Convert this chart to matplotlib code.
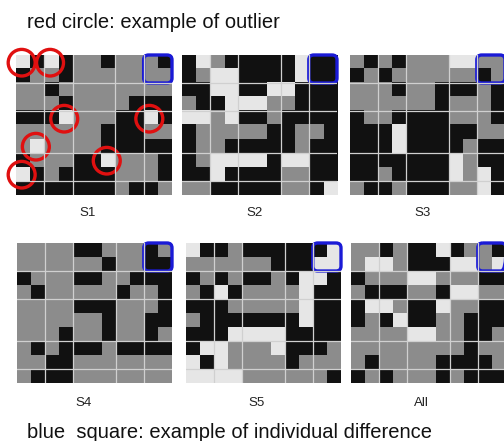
import matplotlib
matplotlib.use("Agg")
import matplotlib.pyplot as plt
from matplotlib.colors import ListedColormap
from matplotlib.patches import Circle, FancyBboxPatch
import numpy as np

plt.rcParams['font.family'] = ['Liberation Sans', 'DejaVu Sans']

# 0 = black, 1 = gray, 2 = light
s1 = [
    [2, 0, 2, 0, 1, 1, 0, 1, 1, 1, 0],
    [0, 1, 1, 0, 1, 1, 1, 1, 1, 1, 1],
    [1, 1, 0, 1, 1, 1, 1, 1, 1, 1, 1],
    [1, 1, 1, 0, 1, 1, 1, 1, 0, 0, 0],
    [0, 0, 0, 2, 1, 1, 1, 0, 0, 2, 0],
    [1, 1, 1, 1, 1, 1, 0, 0, 0, 1, 1],
    [1, 2, 1, 1, 1, 1, 0, 0, 0, 0, 0],
    [0, 1, 1, 1, 0, 0, 2, 1, 1, 1, 0],
    [2, 0, 1, 0, 0, 0, 0, 1, 1, 1, 0],
    [0, 0, 0, 0, 0, 0, 0, 1, 0, 0, 1],
]
s2 = [
    [0, 2, 1, 0, 0, 0, 0, 0, 2, 0, 0],
    [0, 1, 2, 2, 0, 0, 0, 0, 2, 0, 0],
    [0, 0, 2, 2, 0, 0, 2, 2, 0, 0, 0],
    [1, 0, 0, 2, 2, 2, 1, 1, 0, 0, 0],
    [2, 2, 1, 2, 0, 0, 1, 0, 0, 0, 0],
    [0, 1, 1, 1, 1, 1, 0, 0, 1, 1, 0],
    [0, 1, 1, 0, 0, 0, 0, 0, 1, 0, 0],
    [0, 1, 2, 2, 2, 2, 0, 2, 2, 0, 0],
    [0, 0, 2, 0, 0, 0, 0, 1, 1, 0, 0],
    [1, 1, 0, 0, 0, 0, 0, 1, 1, 0, 2],
]
s3 = [
    [1, 0, 1, 0, 1, 1, 1, 2, 2, 1, 1],
    [0, 1, 0, 1, 1, 1, 1, 1, 1, 0, 1],
    [1, 1, 1, 0, 1, 1, 0, 0, 0, 1, 0],
    [1, 1, 1, 1, 1, 1, 0, 1, 1, 1, 0],
    [0, 1, 1, 0, 0, 0, 0, 1, 1, 1, 0],
    [0, 0, 0, 2, 0, 0, 0, 0, 0, 1, 1],
    [0, 0, 0, 2, 0, 0, 0, 0, 1, 0, 0],
    [0, 0, 0, 0, 0, 0, 0, 2, 1, 0, 0],
    [0, 0, 1, 0, 0, 0, 0, 2, 1, 2, 0],
    [1, 0, 0, 1, 0, 0, 0, 1, 1, 2, 0],
]
s4 = [
    [1, 1, 1, 1, 0, 0, 1, 1, 1, 0, 1],
    [1, 1, 1, 1, 1, 1, 0, 1, 1, 0, 0],
    [0, 1, 1, 1, 0, 0, 1, 1, 0, 0, 0],
    [1, 0, 1, 1, 1, 1, 1, 0, 1, 1, 0],
    [1, 1, 1, 1, 0, 0, 0, 1, 1, 1, 0],
    [1, 1, 1, 1, 1, 1, 0, 1, 1, 0, 0],
    [1, 1, 1, 0, 1, 1, 0, 1, 1, 0, 1],
    [1, 0, 1, 0, 0, 0, 1, 0, 0, 0, 0],
    [1, 1, 0, 0, 1, 1, 1, 1, 1, 1, 1],
    [1, 0, 0, 0, 1, 1, 1, 1, 1, 1, 1],
]
s5 = [
    [2, 0, 0, 1, 0, 0, 0, 0, 0, 0, 2],
    [1, 1, 1, 1, 1, 1, 0, 0, 0, 2, 2],
    [0, 1, 0, 1, 0, 0, 1, 0, 2, 2, 0],
    [1, 0, 2, 0, 1, 1, 1, 1, 2, 0, 0],
    [0, 0, 0, 1, 1, 1, 1, 1, 2, 0, 0],
    [1, 0, 0, 0, 0, 0, 0, 0, 2, 0, 0],
    [0, 0, 0, 2, 2, 2, 2, 0, 0, 0, 0],
    [0, 2, 2, 1, 1, 1, 2, 0, 0, 0, 1],
    [2, 0, 2, 1, 1, 1, 1, 0, 1, 1, 1],
    [2, 2, 2, 2, 1, 1, 1, 1, 1, 1, 0],
]
s_all = [
    [1, 1, 0, 1, 0, 0, 2, 0, 1, 1, 0],
    [1, 2, 2, 1, 0, 0, 0, 2, 2, 1, 2],
    [0, 1, 1, 1, 2, 2, 1, 1, 1, 0, 0],
    [1, 0, 0, 0, 1, 1, 0, 2, 2, 1, 1],
    [0, 2, 2, 1, 0, 0, 2, 1, 1, 0, 0],
    [0, 1, 0, 2, 0, 0, 1, 1, 0, 0, 0],
    [1, 1, 1, 1, 2, 2, 1, 1, 0, 0, 1],
    [1, 1, 1, 1, 1, 1, 1, 1, 0, 1, 1],
    [1, 0, 1, 1, 1, 1, 0, 0, 0, 0, 1],
    [0, 1, 0, 1, 1, 1, 0, 1, 0, 0, 0],
]

panels = [s1, s2, s3, s4, s5, s_all]
names = ["S1", "S2", "S3", "S4", "S5", "All"]

# outlier cells in S1 (row, col)
outliers = [(0, 0), (0, 2), (4, 3), (4, 9), (6, 1), (7, 6), (8, 0)]

# white separators between cell groups
col_breaks = [1.5, 3.5, 6.5, 8.5]
row_breaks = [1.5, 3.5, 6.5, 8.5]

W, H = 504, 441
# panel boxes in pixels: left, top, width, height
boxes = [
    (16, 55, 156, 140),
    (182, 55, 155, 140),
    (350, 55, 155, 140),
    (17, 243, 155, 140),
    (186, 243, 155, 140),
    (351, 243, 155, 140),
]
label_pos = [(88, 213), (255, 213), (423, 213), (84, 403), (257, 403), (421, 403)]

cmap = ListedColormap(["#111111", "#8c8c8c", "#e6e6e6"])

fig = plt.figure(figsize=(W / 100, H / 100), dpi=100)

for k, (data, box) in enumerate(zip(panels, boxes)):
    left, top, w, h = box
    ax = fig.add_axes([left / W, 1 - (top + h) / H, w / W, h / H])
    ax.imshow(np.array(data), cmap=cmap, vmin=0, vmax=2, aspect='auto',
              interpolation='none')
    for x in col_breaks:
        ax.axvline(x, color='#d0d0d0', lw=0.9)
    for y in row_breaks:
        ax.axhline(y, color='#d0d0d0', lw=0.9)
    ax.set_xlim(-0.5, 10.5)
    ax.set_ylim(9.5, -0.5)
    ax.axis('off')

    # blue square on the top-right 2x2 block
    ax.add_patch(FancyBboxPatch((8.55, -0.45), 1.9, 1.9,
                                boxstyle="round,pad=0.05,rounding_size=0.35",
                                fill=False, ec='#1a1ad6', lw=2.4, clip_on=False))
    if k == 0:
        for r, c in outliers:
            ax.add_patch(Circle((c - 0.1, r + 0.05), 0.95, fill=False,
                                ec='#e01010', lw=2.4, clip_on=False))

    lx, ly = label_pos[k]
    fig.text(lx / W, 1 - ly / H, names[k], ha='center', va='center',
             fontsize=9.5, color='#222222')

fig.text(27 / W, 1 - 22 / H, "red circle: example of outlier", ha='left',
         va='center', fontsize=14.5, color='#111111')
fig.text(27 / W, 1 - 433 / H, "blue  square: example of individual difference",
         ha='left', va='center', fontsize=14.5, color='#111111')

fig.savefig("out.png", dpi=100)
